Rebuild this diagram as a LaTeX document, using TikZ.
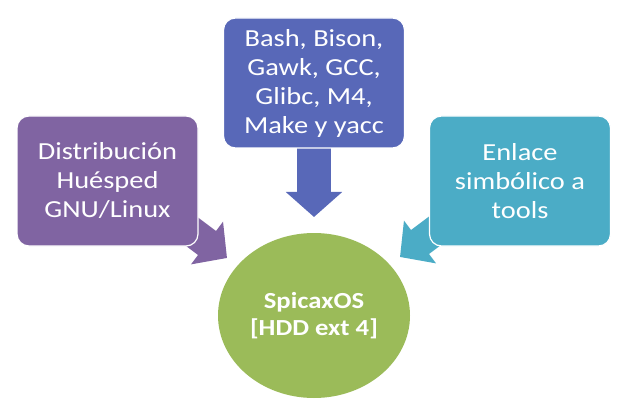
\documentclass[tikz,border=0pt]{standalone}
\usepackage{fontspec}
\setmainfont{Carlito}[FakeStretch=1.16]
\usetikzlibrary{shapes.geometric,arrows.meta,backgrounds}
\definecolor{cpurple}{HTML}{8064A2}
\definecolor{cblue}{HTML}{5868B8}
\definecolor{cteal}{HTML}{4BACC6}
\definecolor{cgreen}{HTML}{9BBB59}
\begin{document}
\begin{tikzpicture}[x=1pt,y=-1pt,
  box/.style={rectangle, rounded corners=12pt, draw=white, line width=1.2pt,
    minimum width=181pt, minimum height=130pt, inner sep=0pt, text=white,
    align=center, font=\fontsize{24.5}{29}\selectfont},
  diagarrow/.style={line width=30pt, -{Triangle[width=52pt,length=25pt]}},
  downarrow/.style={line width=34pt, -{Triangle[width=55pt,length=25pt]}}]
\useasboundingbox (0,0) rectangle (629,414);
\node[box, fill=cpurple] (p) at (107.5,181) {Distribución\\Huésped\\GNU/Linux};
\node[box, fill=cblue] (b) at (314,83) {Bash, Bison,\\Gawk, GCC,\\Glibc, M4,\\Make y yacc};
\node[box, fill=cteal] (t) at (520,181) {Enlace\\simbólico a\\tools};
\node[ellipse, fill=cgreen, minimum width=192pt, minimum height=165pt, inner sep=0pt,
  text=white, align=center, font=\bfseries\fontsize{23}{27}\selectfont]
  (c) at (314,315.5) {SpicaxOS\\{[}HDD ext 4{]}};
\coordinate (ps) at (163,210);
\coordinate (pe) at (227,258);
\coordinate (ts) at (464,209);
\coordinate (te) at (400,257);
\coordinate (be) at (314,217);
\begin{pgfonlayer}{background}
\draw[diagarrow, cpurple] (ps) -- (pe);
\draw[diagarrow, cteal] (ts) -- (te);
\draw[downarrow, cblue] (b.center) -- (be);
\end{pgfonlayer}
\end{tikzpicture}
\end{document}
